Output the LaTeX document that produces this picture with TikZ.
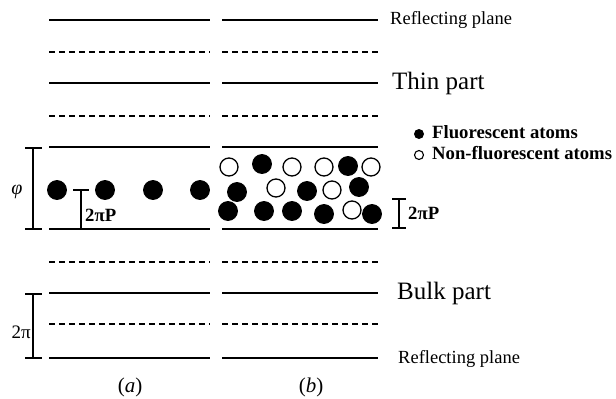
\documentclass[tikz,border=0pt]{standalone}
\usepackage{fontspec}
\setmainfont{Liberation Serif}
\begin{document}
\begin{tikzpicture}[x=1pt,y=-1pt,
  solidline/.style={line width=1.9pt},
  dashline/.style={line width=1.4pt,dash pattern=on 6pt off 4pt},
  barline/.style={line width=2.3pt},
  fatom/.style={circle,fill=black,draw=black,line width=0.8pt,minimum size=19pt,inner sep=0pt},
  natom/.style={circle,fill=white,draw=black,line width=1.3pt,minimum size=18pt,inner sep=0pt},
  smalllab/.style={font=\fontsize{18.5}{20}\selectfont,anchor=west,inner sep=0pt},
  biglab/.style={font=\fontsize{25}{28}\selectfont,anchor=west,inner sep=0pt},
  boldlab/.style={font=\fontsize{18.7}{20}\selectfont\bfseries,anchor=west,inner sep=0pt},
  caplab/.style={font=\fontsize{21}{24}\selectfont,inner sep=0pt}]
\useasboundingbox (0,0) rectangle (616,399);
% planes, column (a) and (b)
\foreach \y in {20,83,147,229,293,358}{
  \draw[solidline] (49,\y) -- (210,\y);
  \draw[solidline] (222,\y) -- (378,\y);
}
\foreach \y in {52,116,262,324}{
  \draw[dashline] (49,\y) -- (210,\y);
  \draw[dashline] (222,\y) -- (378,\y);
}
% right labels
\node[smalllab] (rp1) at (390,20) {Reflecting plane};
\node[biglab] (thin) at (392,83) {Thin part};
\node[biglab] (bulk) at (397,293) {Bulk part};
\node[smalllab] (rp2) at (398,359) {Reflecting plane};
% phi bar
\draw[barline] (25,148) -- (42,148) (33,148) -- (33,229) (25,229) -- (42,229);
\node[font=\fontsize{20}{22}\selectfont\itshape,inner sep=0pt] (phi) at (17,192) {φ};
% 2pi bar
\draw[barline] (25,294) -- (42,294) (33,294) -- (33,358) (25,358) -- (42,358);
\node[font=\fontsize{19}{21}\selectfont,inner sep=0pt,anchor=east] (twopi) at (31,332) {2π};
% (a) atoms
\foreach \x [count=\i] in {57,105,153,200}{
  \node[fatom] (a\i) at (\x,190) {};
}
\draw[barline] (73,190) -- (89,190) (81,190) -- (81,229);
\node[boldlab] (pa) at (85,215) {2πP};
% (b) atoms
\node[natom] (b1) at (229,167) {};
\node[fatom] (b2) at (262,164) {};
\node[natom] (b3) at (292,167) {};
\node[natom] (b4) at (324,167) {};
\node[fatom] (b5) at (348,166) {};
\node[natom] (b6) at (371,167) {};
\node[fatom] (b7) at (237,192) {};
\node[natom] (b8) at (276,188) {};
\node[fatom] (b9) at (307,191) {};
\node[natom] (b10) at (332,190) {};
\node[fatom] (b11) at (359,187) {};
\node[fatom] (b12) at (228,211) {};
\node[fatom] (b13) at (264,211) {};
\node[fatom] (b14) at (292,211) {};
\node[fatom] (b15) at (324,214) {};
\node[natom] (b16) at (352,210) {};
\node[fatom] (b17) at (372,214) {};
\draw[barline] (392,199) -- (406,199) (399,199) -- (399,228) (392,228) -- (406,228);
\node[boldlab] (pb) at (408,213) {2πP};
% legend
\node[circle,fill=black,minimum size=10pt,inner sep=0pt] (lf) at (419,134) {};
\node[boldlab] (lft) at (432,132) {Fluorescent atoms};
\node[circle,draw=black,line width=1.1pt,minimum size=9pt,inner sep=0pt] (ln) at (419,155) {};
\node[boldlab] (lnt) at (432,153) {Non-fluorescent atoms};
% captions
\node[caplab] (capa) at (130,387) {(\textit{a})};
\node[caplab] (capb) at (311,387) {(\textit{b})};
\end{tikzpicture}
\end{document}
